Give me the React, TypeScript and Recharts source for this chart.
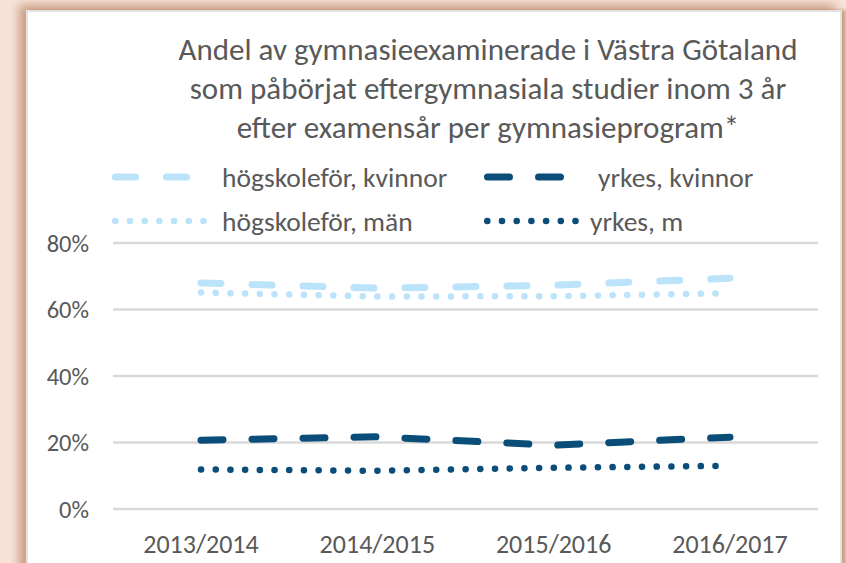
import React from 'react';
import { LineChart, Line, XAxis, YAxis, CartesianGrid } from 'recharts';

const categories = ['2013/2014', '2014/2015', '2015/2016', '2016/2017'];
const hogskoleKvinnor = [68.0, 66.4, 67.3, 69.4];
const hogskoleMan = [65.1, 63.9, 64.0, 64.9];
const yrkesKvinnor = [20.7, 21.7, 19.2, 21.6];
const yrkesM = [11.9, 11.5, 12.4, 13.0];
const yTicks = [0, 20, 40, 60, 80];
const titleLines = [
  'Andel av gymnasieexaminerade i Västra Götaland',
  'som påbörjat eftergymnasiala studier inom 3 år',
  'efter examensår per gymnasieprogram*',
];

const data = categories.map((c, i) => ({
  cat: c,
  hk: hogskoleKvinnor[i],
  hm: hogskoleMan[i],
  yk: yrkesKvinnor[i],
  ym: yrkesM[i],
}));

const FONT = "Carlito, Calibri, 'Liberation Sans Narrow', 'Open Sans', sans-serif";
const TEXT = '#595959';
const LIGHT = '#bbe3fa';
const DARK = '#0b4d79';

const series = [
  { key: 'hk', name: 'högskoleför, kvinnor', color: LIGHT, dash: '20 31', width: 7 },
  { key: 'yk', name: 'yrkes, kvinnor', color: DARK, dash: '22 29', width: 7 },
  { key: 'hm', name: 'högskoleför, män', color: LIGHT, dash: '0.1 14.6', width: 6.5 },
  { key: 'ym', name: 'yrkes, m', color: DARK, dash: '0.1 14.6', width: 6.5 },
];

const legendPos = [
  { x: 112, y: 177, sw: 82, tx: 222 },
  { x: 484, y: 177, sw: 80, tx: 598 },
  { x: 112, y: 221, sw: 95, tx: 222 },
  { x: 484, y: 221, sw: 95, tx: 590 },
];

function LegendBox() {
  return (
    <svg width={846} height={260} style={{ position: 'absolute', left: 0, top: 0, overflow: 'visible' }}>
      {series.map((s, i) => {
        const p = legendPos[i];
        return (
          <g key={s.key}>
            <line
              x1={p.x + s.width / 2}
              x2={p.x + p.sw - s.width / 2}
              y1={p.y}
              y2={p.y}
              stroke={s.color}
              strokeWidth={s.width}
              strokeDasharray={s.dash}
              strokeLinecap="round"
            />
            <text x={p.tx} y={p.y} dy="0.35em" fill={TEXT} fontSize={27.5} fontFamily={FONT}>
              {s.name}
            </text>
          </g>
        );
      })}
    </svg>
  );
}

export default function App() {
  return (
    <div
      style={{
        position: 'absolute',
        left: 0,
        top: 0,
        width: 846,
        height: 563,
        overflow: 'hidden',
        background: '#f7e3d8',
      }}
    >
      <div
        style={{
          position: 'absolute',
          left: 26,
          top: 10,
          width: 812,
          height: 570,
          background: '#ffffff',
          borderLeft: '2px solid #e3e3e3',
          borderTop: '2px solid #e3e3e3',
          borderRight: '2px solid #e3e3e3',
          boxShadow: '-7px -5px 9px rgba(190,135,105,0.75), 4px 0 3px rgba(190,135,105,0.7)',
        }}
      />
      <div
        style={{
          position: 'absolute',
          left: 130,
          top: 30,
          width: 716,
          textAlign: 'center',
          fontFamily: FONT,
          fontSize: 31,
          lineHeight: '39px',
          color: TEXT,
        }}
      >
        {titleLines.map((t) => (
          <div key={t}>{t}</div>
        ))}
      </div>
      <LegendBox />
      <div style={{ position: 'absolute', left: 0, top: 0 }}>
        <LineChart
          width={846}
          height={563}
          data={data}
          margin={{ top: 243, right: 28, bottom: 24, left: 0 }}
        >
          <CartesianGrid vertical={false} stroke="#d9d9d9" strokeWidth={2.5} />
          <XAxis
            dataKey="cat"
            height={30}
            axisLine={false}
            tickLine={false}
            tickSize={0}
            tickMargin={26}
            padding={{ left: 88, right: 88 }}
            tick={{ fill: TEXT, fontSize: 26, fontFamily: FONT }}
            interval={0}
          />
          <YAxis
            width={113}
            domain={[0, 80]}
            ticks={yTicks}
            axisLine={false}
            tickLine={false}
            tickSize={0}
            tickMargin={24}
            tickFormatter={(v) => `${v}%`}
            tick={{ fill: TEXT, fontSize: 24.5, fontFamily: FONT }}
          />
          {series.map((s) => (
            <Line
              key={s.key}
              dataKey={s.key}
              name={s.name}
              type="linear"
              stroke={s.color}
              strokeWidth={s.width}
              strokeDasharray={s.dash}
              strokeLinecap="round"
              dot={false}
              activeDot={false}
              isAnimationActive={false}
            />
          ))}
        </LineChart>
      </div>
    </div>
  );
}
